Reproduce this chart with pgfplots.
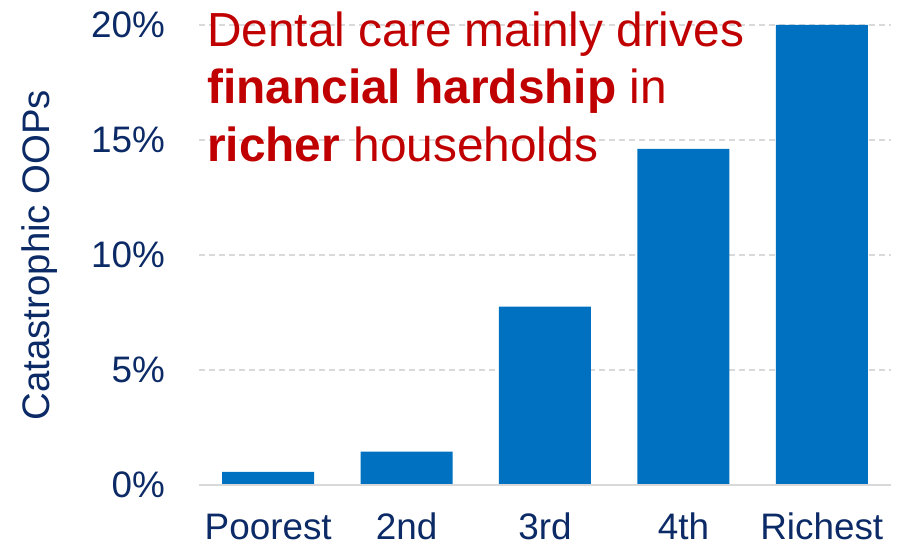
\documentclass[border=0pt]{standalone}
\usepackage{pgfplots}
\pgfplotsset{compat=1.18}
\usepackage{fontspec}
\setmainfont{Liberation Sans}
\definecolor{barblue}{HTML}{0070C0}
\definecolor{navy}{HTML}{0B2A66}
\definecolor{titlered}{HTML}{C00000}
\definecolor{gridgray}{HTML}{D9D9D9}
\begin{document}
\begin{tikzpicture}
\begin{axis}[
  scale only axis,
  width=692bp, height=460bp,
  xmin=-0.5, xmax=4.5,
  ymin=0, ymax=20,
  ybar, bar width=92bp,
  xtick={0,1,2,3,4},
  xticklabels={Poorest,2nd,3rd,4th,Richest},
  ytick={0,5,10,15,20},
  yticklabels={0\%,5\%,10\%,15\%,20\%},
  major tick length=0pt,
  axis line style={draw=none},
  ymajorgrids,
  grid style={gridgray, dash pattern=on 6bp off 4bp, line width=1.1bp},
  clip=false,
  font=\fontsize{37}{44}\selectfont,
  ticklabel style={text=navy, font=\fontsize{37}{44}\selectfont},
  yticklabel style={anchor=east, inner sep=0pt, xshift=-34bp},
  xticklabel style={anchor=north, inner sep=0pt, yshift=-28bp, text height=26.5bp, text depth=0pt},
  ylabel={Catastrophic OOPs},
  ylabel style={at={(axis description cs:-0.2298,0.5)}, anchor=center, text=navy, font=\fontsize{38.5}{44}\selectfont, inner sep=0pt},
]
\addplot[fill=barblue, draw=none, bar shift=0pt] coordinates {(0,0.57) (1,1.45) (2,7.75) (3,14.61) (4,20.0)};
\draw[gridgray, line width=1.6bp] (axis cs:-0.5,0) -- (axis cs:4.5,0);
\node[anchor=base west, inner sep=0pt, text=titlered, font=\fontsize{48}{58}\selectfont] at (rel axis cs:0.0116,0.9543) {Dental care mainly drives};
\node[anchor=base west, inner sep=0pt, text=titlered, font=\fontsize{48}{58}\selectfont] at (rel axis cs:0.0116,0.8283) {\textbf{financial hardship} in};
\node[anchor=base west, inner sep=0pt, text=titlered, font=\fontsize{48}{58}\selectfont] at (rel axis cs:0.0116,0.7022) {\textbf{richer} households};
\end{axis}
\pgfresetboundingbox
\path[use as bounding box] (current axis.south west) ++(-199bp,-64bp) rectangle ++(907bp,549bp);
\end{tikzpicture}
\end{document}
